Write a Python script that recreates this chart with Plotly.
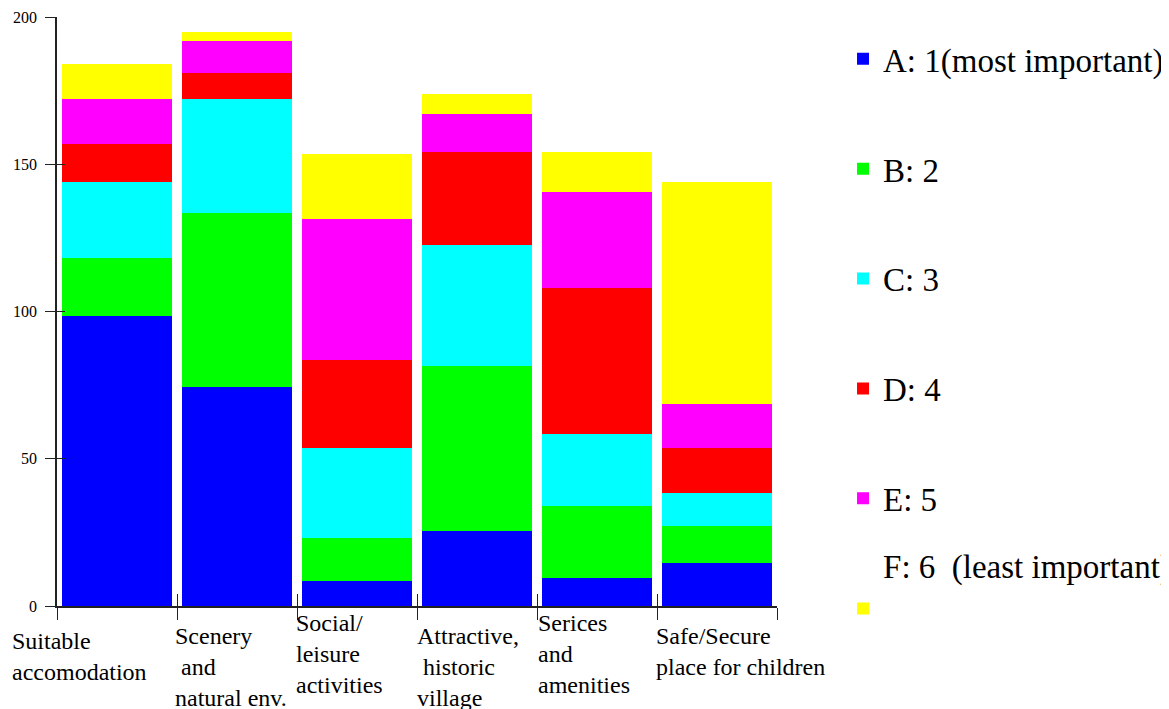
import plotly.graph_objects as go

categories = ["Suitable accomodation", "Scenery and natural env.", "Social/ leisure activities",
              "Attractive, historic village", "Serices and amenities", "Safe/Secure place for children"]
tick_labels = [
    "Suitable<br>accomodation",
    "Scenery<br>\u00a0and<br>natural env.",
    "Social/<br>leisure<br>activities",
    "Attractive,<br>\u00a0historic<br>village",
    "Serices<br>and<br>amenities",
    "Safe/Secure<br>place for children",
]
series_names = ["A: 1(most important)", "B: 2", "C: 3", "D: 4", "E: 5",
                "F: 6\u00a0 (least important)<br>\u00a0"]
A_vals = [98.5, 74.5, 8.5, 25.5, 9.5, 14.5]
B_vals = [19.5, 59, 14.5, 56, 24.5, 12.5]
C_vals = [26, 38.5, 30.5, 41, 24.5, 11.5]
D_vals = [13, 9, 30, 31.5, 49.5, 15]
E_vals = [15, 11, 48, 13, 32.5, 15]
F_vals = [12, 3, 22, 7, 13.5, 75.5]
y_ticks = [0, 50, 100, 150, 200]

series_values = [A_vals, B_vals, C_vals, D_vals, E_vals, F_vals]
colors = ["#0000FF", "#00FF00", "#00FFFF", "#FF0000", "#FF00FF", "#FFFF00"]

FONT = "Liberation Serif"
AX = "#222222"

fig = go.Figure()
for i, (name, vals, col) in enumerate(zip(series_names, series_values, colors)):
    fig.add_trace(go.Bar(
        x=categories, y=vals, name=name,
        marker=dict(color=col, line=dict(width=0)),
        legendgroup="g%d" % i,
        legend="legend2" if i == 5 else "legend",
        hoverinfo="skip",
    ))

# invisible trace to carry the overlay axes (inside tick marks)
fig.add_trace(go.Scatter(x=categories, y=[0] * len(categories), xaxis="x2", yaxis="y2",
                         mode="markers", marker=dict(opacity=0), showlegend=False,
                         hoverinfo="skip"))

# category labels under the axis
label_xshift = [-107, -64, -63, -62, -61.5, -63]
label_yshift = [-20, -15, -2, -15, -2, -15]
for cat, lab, xs, ys in zip(categories, tick_labels, label_xshift, label_yshift):
    fig.add_annotation(x=cat, y=0, xref="x", yref="y", text=lab, showarrow=False,
                       xanchor="left", yanchor="top", align="left",
                       xshift=xs, yshift=ys,
                       font=dict(family=FONT, size=24, color="black"))

fig.update_layout(
    width=1161, height=701,
    margin=dict(l=49, r=392, t=9, b=103, autoexpand=False),
    paper_bgcolor="white", plot_bgcolor="white",
    barmode="stack", bargap=0.083,
    font=dict(family=FONT, color="black"),
    xaxis=dict(type="category", categoryarray=categories, range=[-0.5, 5.5],
               showgrid=False, zeroline=False, showline=True, linecolor=AX, linewidth=1.5,
               ticks="outside", tickson="boundaries", ticklen=12, tickwidth=1.2, tickcolor=AX,
               showticklabels=False),
    yaxis=dict(range=[0, 200], tickvals=y_ticks, showgrid=False, zeroline=False,
               showline=True, linecolor=AX, linewidth=1.5,
               ticks="outside", ticklen=10, tickwidth=1.2, tickcolor=AX,
               ticklabelstandoff=5,
               tickfont=dict(family=FONT, size=16, color="black")),
    xaxis2=dict(type="category", categoryarray=categories, range=[-0.5, 5.5], overlaying="x",
                showgrid=False, zeroline=False, showline=False,
                ticks="inside", tickson="boundaries", ticklen=12, tickwidth=1.2, tickcolor=AX,
                showticklabels=False),
    yaxis2=dict(range=[0, 200], tickvals=y_ticks, overlaying="y", showgrid=False, zeroline=False,
                showline=False, ticks="inside", ticklen=8, tickwidth=1.2, tickcolor=AX,
                showticklabels=False),
    legend=dict(x=1.0917, xref="paper", xanchor="left", y=0.9766, yanchor="top",
                traceorder="grouped", tracegroupgap=64, bgcolor="rgba(0,0,0,0)",
                font=dict(family=FONT, size=33, color="black")),
    legend2=dict(x=1.0917, xref="paper", xanchor="left", y=0.116, yanchor="top",
                 valign="bottom", bgcolor="rgba(0,0,0,0)",
                 font=dict(family=FONT, size=33, color="black")),
)

fig.write_html("out.html", config={"displayModeBar": False})
